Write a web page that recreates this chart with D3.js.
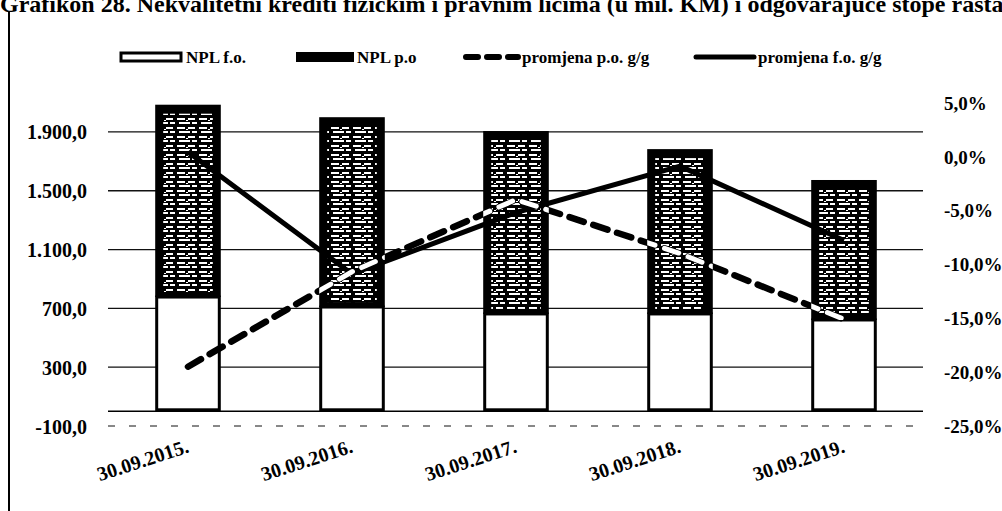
<!DOCTYPE html>
<html>
<head>
<meta charset="utf-8">
<script src="https://cdn.jsdelivr.net/npm/d3@7/dist/d3.min.js"></script>
<style>
  html, body { margin: 0; padding: 0; background: #fff; }
  svg { display: block; }
  text { font-family: "Liberation Serif", "Times New Roman", serif; font-weight: bold; fill: #000; }
</style>
</head>
<body>
<svg id="chart" width="1002" height="511"></svg>
<script>
// ---- data ----
const title = "Grafikon 28. Nekvalitetni krediti fizičkim i pravnim licima (u mil. KM) i odgovarajuće stope rasta";
const categories = ["30.09.2015.", "30.09.2016.", "30.09.2017.", "30.09.2018.", "30.09.2019."];
const nplFO = [777, 709, 662, 662, 621];        // NPL f.o. (mil. KM)
const nplPO = [1308, 1291, 1244, 1121, 952];    // NPL p.o (mil. KM)
const changePO = [-19.5, -10.7, -4.0, -9.0, -15.1]; // promjena p.o. g/g (%)
const changeFO = [0.4, -10.9, -5.2, -0.9, -7.8];    // promjena f.o. g/g (%)
const leftTicks = [-100, 300, 700, 1100, 1500, 1900];
const rightTicks = [5, 0, -5, -10, -15, -20, -25];
const legendLabels = ["NPL f.o.", "NPL p.o", "promjena p.o. g/g", "promjena f.o. g/g"];

// ---- layout ----
const svg = d3.select("#chart");
const plot = { left: 106, right: 926, top: 102.5, bottom: 426 };

const loc = d3.formatLocale({ decimal: ",", thousands: ".", grouping: [3], currency: ["", ""], minus: "-" });
const fmtLeft = loc.format(",.1f");
const fmtRight = v => loc.format(".1f")(v) + "%";

const x = d3.scaleBand().domain(categories).range([plot.left, plot.right])
  .paddingInner(0.6).paddingOuter(0.3);
const y = d3.scaleLinear().domain([-100, 2100]).range([plot.bottom, plot.top]);
const y2 = d3.scaleLinear().domain([-25, 5]).range([plot.bottom, plot.top]);

// pattern for NPL p.o
const defs = svg.append("defs");
const pat = defs.append("pattern").attr("id", "poPat").attr("patternUnits", "userSpaceOnUse")
  .attr("width", 22).attr("height", 9);
pat.append("rect").attr("width", 22).attr("height", 9).attr("fill", "#000");
[[1,1,8,2],[12,1,7,2],[3,5,11,2],[16,5,5,2],[10,3,2,1]].forEach(r =>
  pat.append("rect").attr("x", r[0]).attr("y", r[1]).attr("width", r[2]).attr("height", r[3]).attr("fill", "#fff"));

// title (cut at top as in the scan)
svg.append("text").attr("x", 0).attr("y", 12).style("font-size", "24px").text(title);

// left frame line
svg.append("line").attr("x1", 9).attr("x2", 9).attr("y1", 12).attr("y2", 511)
  .attr("stroke", "#000").attr("stroke-width", 2);

// gridlines
const grid = svg.append("g");
leftTicks.forEach(t => {
  grid.append("line").attr("x1", plot.left + 2).attr("x2", plot.right - 3)
    .attr("y1", y(t)).attr("y2", y(t))
    .attr("stroke", "#111").attr("stroke-width", t === -100 ? 1 : 1.3)
    .attr("stroke-dasharray", t === -100 ? "7,14" : null);
});
// category axis line at 0
grid.append("line").attr("x1", plot.left + 2).attr("x2", plot.right - 3)
  .attr("y1", y(0)).attr("y2", y(0)).attr("stroke", "#000").attr("stroke-width", 1.6);

// left axis labels
const yAxis = d3.axisLeft(y).tickValues(leftTicks).tickFormat(fmtLeft).tickSize(0).tickPadding(0);
const gy = svg.append("g").attr("transform", "translate(87,0)").call(yAxis);
gy.select(".domain").remove();
gy.selectAll("text").style("font-size", "20px").attr("dy", "0.35em");

// right axis labels
const yAxis2 = d3.axisRight(y2).tickValues(rightTicks).tickFormat(fmtRight).tickSize(0).tickPadding(0);
const gy2 = svg.append("g").attr("transform", "translate(944,0)").call(yAxis2);
gy2.select(".domain").remove();
gy2.selectAll("text").style("font-size", "19px").attr("dy", "0.35em");

// bars
const bars = svg.append("g");
const clip = defs.append("clipPath").attr("id", "poClip");
categories.forEach((c, i) => {
  const x0 = x(c), w = x.bandwidth();
  const yFo = y(nplFO[i]), yTop = y(nplFO[i] + nplPO[i]), y0 = y(0);
  // f.o. segment: white with black outline
  bars.append("rect").attr("x", x0 + 1.5).attr("y", yFo).attr("width", w - 3).attr("height", y0 - yFo - 1.5)
    .attr("fill", "#fff").attr("stroke", "#000").attr("stroke-width", 3);
  // p.o. segment: dark textured
  bars.append("rect").attr("x", x0).attr("y", yTop).attr("width", w).attr("height", yFo - yTop)
    .attr("fill", "#000");
  bars.append("rect").attr("x", x0 + 8).attr("y", yTop + 9).attr("width", w - 16).attr("height", yFo - yTop - 14)
    .attr("fill", "url(#poPat)");
  clip.append("rect").attr("x", x0).attr("y", yTop).attr("width", w).attr("height", yFo - yTop);
});

// x labels
const xl = svg.append("g");
categories.forEach(c => {
  const cx = x(c) + x.bandwidth() / 2;
  xl.append("text").attr("text-anchor", "end")
    .attr("transform", `translate(${cx + 2},${452}) rotate(-18)`)
    .style("font-size", "20px").text(c);
});

// lines
const line = d3.line().x((d, i) => x(categories[i]) + x.bandwidth() / 2).y(d => y2(d));
svg.append("path").datum(changeFO).attr("d", line).attr("fill", "none")
  .attr("stroke", "#000").attr("stroke-width", 5).attr("stroke-linejoin", "round");
svg.append("path").datum(changePO).attr("d", line).attr("fill", "none")
  .attr("stroke", "#000").attr("stroke-width", 6.5).attr("stroke-dasharray", "15,10").attr("stroke-linecap", "round");
// dashes appear white where they cross dark p.o. segments
svg.append("path").datum(changePO).attr("d", line).attr("fill", "none").attr("clip-path", "url(#poClip)")
  .attr("stroke", "#fff").attr("stroke-width", 5).attr("stroke-dasharray", "15,10").attr("stroke-linecap", "round");

// legend
const lg = svg.append("g");
const ly = 57;
lg.append("rect").attr("x", 121).attr("y", ly - 4).attr("width", 60).attr("height", 8)
  .attr("fill", "#fff").attr("stroke", "#000").attr("stroke-width", 3);
lg.append("text").attr("x", 186).attr("y", ly).attr("dy", "0.35em").style("font-size", "17px").text(legendLabels[0]);
lg.append("rect").attr("x", 296).attr("y", ly - 5).attr("width", 58).attr("height", 10).attr("fill", "#000");
lg.append("text").attr("x", 357).attr("y", ly).attr("dy", "0.35em").style("font-size", "17px").text(legendLabels[1]);
lg.append("line").attr("x1", 466).attr("x2", 518).attr("y1", ly).attr("y2", ly)
  .attr("stroke", "#000").attr("stroke-width", 6).attr("stroke-dasharray", "12,9").attr("stroke-linecap", "round");
lg.append("text").attr("x", 522).attr("y", ly).attr("dy", "0.35em").style("font-size", "17px").text(legendLabels[2]);
lg.append("line").attr("x1", 696).attr("x2", 754).attr("y1", ly).attr("y2", ly)
  .attr("stroke", "#000").attr("stroke-width", 5).attr("stroke-linecap", "round");
lg.append("text").attr("x", 758).attr("y", ly).attr("dy", "0.35em").style("font-size", "17px").text(legendLabels[3]);
</script>
</body>
</html>
